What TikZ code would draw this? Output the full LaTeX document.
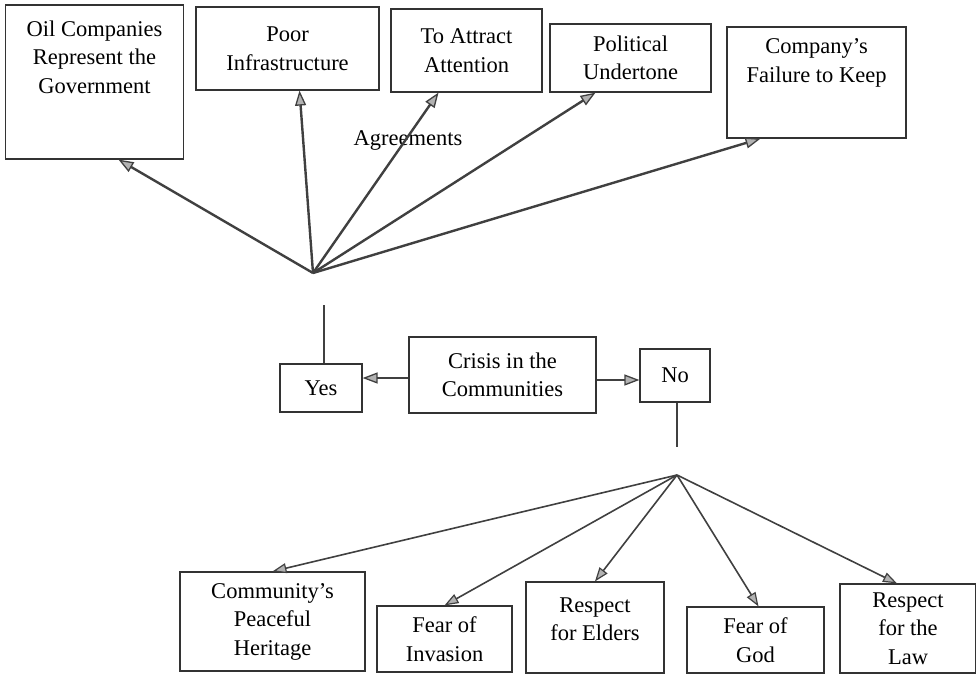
\documentclass[tikz,border=0pt]{standalone}
\usepackage{fontspec}
\setmainfont{Liberation Serif}
\usetikzlibrary{arrows.meta, calc}

\tikzset{
  box/.style={draw=black!80, line width=1.2pt, align=center, inner sep=0pt},
  txt/.style={align=center, inner sep=0pt},
  arr/.style={draw=black!75, line width=2.4pt, -{Triangle[length=15pt, width=11pt, line width=1.3pt, fill=black!30]}},
  arrlow/.style={draw=black!75, line width=1.6pt, -{Triangle[length=14pt, width=10pt, line width=1.2pt, fill=black!30]}},
  stem/.style={draw=black!75, line width=1.3pt}
}

\begin{document}
\begin{tikzpicture}[x=1pt, y=-1pt, font=\fontsize{22.5}{28.5}\selectfont]
\useasboundingbox (0,0) rectangle (976,675);

% causes (Yes)
\node[box, minimum width=178, minimum height=154] (oil) at (94.5,82) {};
\node[txt] (oiltxt) at (94.5,57) {Oil Companies\\Represent the\\Government};
\node[box, minimum width=183, minimum height=83] (poor) at (287.5,48.5) {Poor\\Infrastructure};
\node[box, minimum width=151, minimum height=83] (attract) at (466.5,50.5) {To Attract\\Attention};
\node[box, minimum width=161, minimum height=68] (polit) at (630.5,58) {Political\\Undertone};
\node[box, minimum width=179, minimum height=111] (fail) at (816.5,82.5) {};
\node[txt] (failtxt) at (816.5,63) {Company's\\Failure to Keep};
\node[txt] (agree) at (408,140) {Agreements};

\coordinate (yf) at (313,273);
\draw[arr] (yf) -- ([xshift=24pt]oil.south);
\draw[arr] (yf) -- ([xshift=12pt]poor.south);
\draw[arr] (yf) -- ([xshift=-28pt]attract.south);
\draw[arr] (yf) -- ([xshift=-35pt]polit.south);
\draw[arr] (yf) -- ([xshift=-56pt]fail.south);

% middle row
\node[box, minimum width=82, minimum height=48] (yes) at (321,388) {Yes};
\node[box, minimum width=187, minimum height=76] (crisis) at (502.5,375) {Crisis in the\\Communities};
\node[box, minimum width=70, minimum height=53] (no) at (675,375.5) {No};
\draw[arr] (crisis.west |- 0,378) -- (yes.east |- 0,378);
\draw[arr] (crisis.east |- 0,380) -- (no.west |- 0,380);

\coordinate (ytop) at (324,305);
\draw[stem] (ytop |- yes.north) -- (ytop);
\coordinate (nbot) at (677,447);
\draw[stem] (nbot |- no.south) -- (nbot);

% reasons (No)
\node[box, minimum width=185, minimum height=99] (herit) at (272.5,621.5) {Community's\\Peaceful\\Heritage};
\node[box, minimum width=135, minimum height=66] (invas) at (444.5,639) {Fear of\\Invasion};
\node[box, minimum width=138, minimum height=91] (elder) at (595,627.5) {};
\node[txt] (eldertxt) at (595,619) {Respect\\for Elders};
\node[box, minimum width=137, minimum height=66] (god) at (755.5,640) {Fear of\\God};
\node[box, minimum width=136, minimum height=89] (law) at (908,628.5) {Respect\\for the\\Law};

\coordinate (nf) at (677,475);
\draw[arrlow] (nf) -- (herit.north);
\draw[arrlow] (nf) -- (invas.north);
\draw[arrlow] (nf) -- (elder.north);
\draw[arrlow] (nf) -- ([xshift=3pt]god.north);
\draw[arrlow] (nf) -- ([xshift=-11pt]law.north);
\end{tikzpicture}
\end{document}
